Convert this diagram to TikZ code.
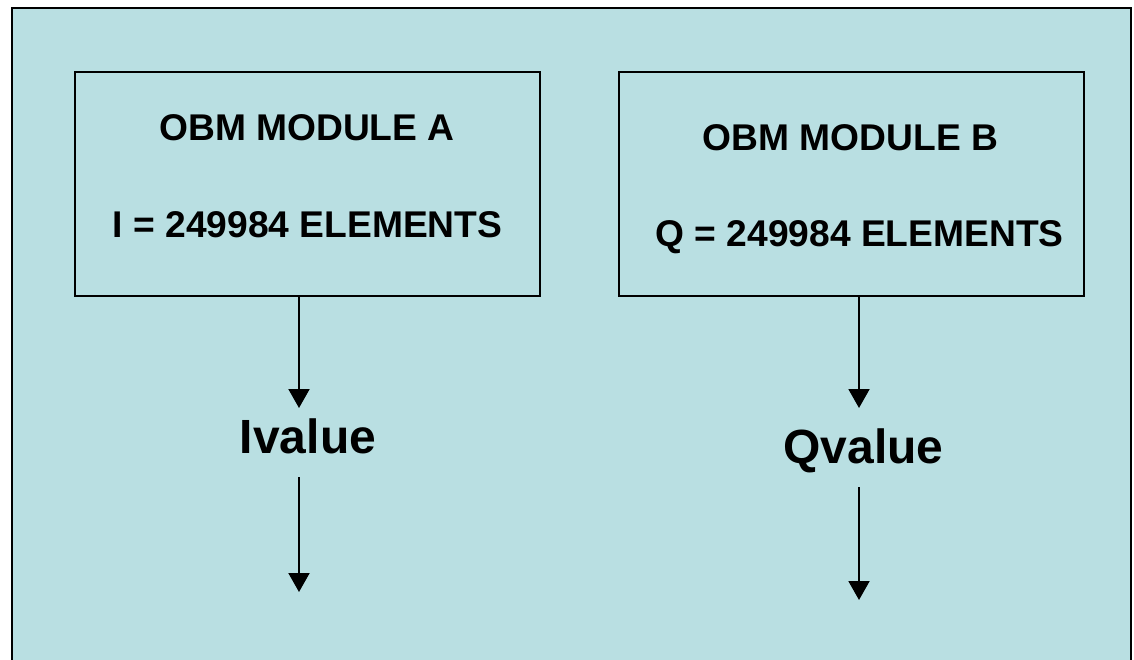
\documentclass[tikz,border=0pt]{standalone}
\usepackage{fontspec}
\setmainfont{Liberation Sans}
\usepackage{tikz}
\usetikzlibrary{arrows.meta,positioning}
\definecolor{panel}{HTML}{B9DFE2}
\definecolor{ink}{HTML}{000000}

\begin{document}
\begin{tikzpicture}[
  x=1pt,y=-1pt,
  font=\bfseries,
  module/.style={draw=ink,line width=1.8pt,minimum width=465pt,minimum height=224pt,inner sep=0pt},
  title/.style={anchor=base,inner sep=0pt,font=\bfseries\fontsize{37.2}{44}\selectfont},
  count/.style={anchor=base,inner sep=0pt,font=\bfseries\fontsize{37.2}{44}\selectfont},
  value/.style={anchor=base,inner sep=0pt,font=\bfseries\fontsize{48}{56}\selectfont},
  arr/.style={-{Triangle[width=21pt,length=19pt]},line width=2pt,draw=ink}
]
\useasboundingbox (0,0) rectangle (1134,660);
\draw[fill=panel,draw=ink,line width=2pt] (11.5,8) rectangle (1131,700);
\node[module] (modA) at (307.5,184) {};
\node[module] (modB) at (851.5,184) {};
\node[title] (titA) at (307,141) {OBM MODULE A};
\node[count] (cntA) at (307.5,237) {I = 249984 ELEMENTS};
\node[title] (titB) at (850.5,151) {OBM MODULE B};
\node[count] (cntB) at (859.5,247) {Q = 249984 ELEMENTS};
\node[value] (ival) at (308,453) {Ivalue};
\node[value] (qval) at (863.5,463) {Qvalue};
\coordinate (ia) at (299,408);
\coordinate (ib) at (299,477);
\coordinate (ic) at (299,592);
\coordinate (qa) at (859,408);
\coordinate (qb) at (859,487);
\coordinate (qc) at (859,600);
\draw[arr] (modA.south -| ia)--(ia);
\draw[arr] (ib)--(ic);
\draw[arr] (modB.south -| qa)--(qa);
\draw[arr] (qb)--(qc);
\end{tikzpicture}
\end{document}
